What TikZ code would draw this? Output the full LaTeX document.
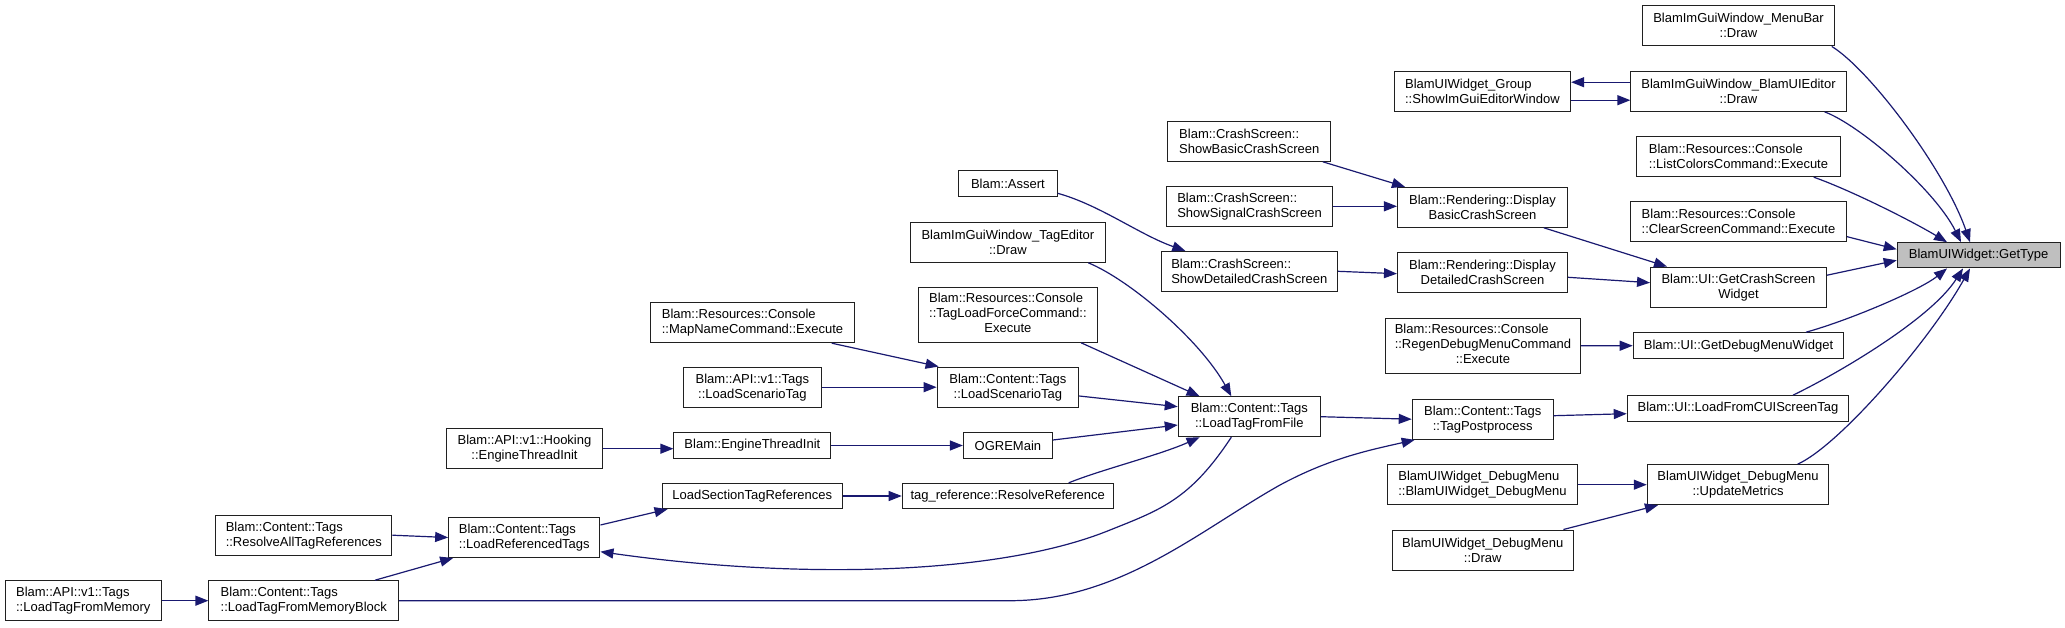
\documentclass[tikz,border=0pt]{standalone}
\usepackage{fontspec}
\setmainfont{Liberation Sans}
\usetikzlibrary{arrows.meta}
\definecolor{edgecol}{HTML}{191970}
\definecolor{focusfill}{HTML}{BFBFBF}
\definecolor{bordercol}{HTML}{202020}
\begin{document}
\begin{tikzpicture}[x=1pt,y=-1pt,
  box/.style={draw=bordercol, line width=1pt, fill=white, inner sep=0pt, text=black,
              font=\fontsize{13}{15}\selectfont},
  lbox/.style={box, align=left},
  cbox/.style={box, align=center},
  e/.style={draw=edgecol, line width=1.2pt, -{Triangle[length=13pt,width=10pt]}}]
\useasboundingbox (0,0) rectangle (2065,627);

% column 1
\node[lbox, minimum width=155.8pt, minimum height=40pt] (apiltfm) at (83.3,600.7) {Blam::API::v1::Tags\\::LoadTagFromMemory};
% column 2
\node[lbox, minimum width=189.8pt, minimum height=40pt] (ltfmb) at (303.8,600.7) {Blam::Content::Tags\\::LoadTagFromMemoryBlock};
\node[lbox, minimum width=176.3pt, minimum height=40pt] (ratr) at (303.8,535.2) {Blam::Content::Tags\\::ResolveAllTagReferences};
% column 3
\node[lbox, minimum width=151.3pt, minimum height=40pt] (lrt) at (524.3,537.5) {Blam::Content::Tags\\::LoadReferencedTags};
\node[cbox, minimum width=156.3pt, minimum height=40pt] (heti) at (524.5,448.7) {Blam::API::v1::Hooking\\::EngineThreadInit};
% column 4
\node[lbox, minimum width=204.5pt, minimum height=40pt] (mapname) at (752.5,322.7) {Blam::Resources::Console\\::MapNameCommand::Execute};
\node[cbox, minimum width=137.8pt, minimum height=40pt] (apilst) at (752.4,387.2) {Blam::API::v1::Tags\\::LoadScenarioTag};
\node[box, minimum width=157pt, minimum height=25.7pt] (eti) at (752.4,445.5) {Blam::EngineThreadInit};
\node[box, minimum width=180.3pt, minimum height=25.3pt] (lstr) at (752.2,496) {LoadSectionTagReferences};
% column 5
\node[box, minimum width=98.6pt, minimum height=25.7pt] (assert) at (1007.9,183.8) {Blam::Assert};
\node[cbox, minimum width=194.2pt, minimum height=40pt] (tagedit) at (1007.9,242.3) {BlamImGuiWindow\_TagEditor\\::Draw};
\node[box, minimum width=179pt, minimum height=55pt] (tlf) at (1007.9,314.8) {\begin{tabular}{@{}l@{}}Blam::Resources::Console\\::TagLoadForceCommand::\\\multicolumn{1}{@{}c@{}}{Execute}\end{tabular}};
\node[cbox, minimum width=141.6pt, minimum height=40.3pt] (clst) at (1007.9,387.2) {Blam::Content::Tags\\::LoadScenarioTag};
\node[box, minimum width=89pt, minimum height=25.7pt] (ogre) at (1007.9,445.5) {OGREMain};
\node[box, minimum width=211pt, minimum height=25.3pt] (rr) at (1007.7,496) {tag\_reference::ResolveReference};
% column 6
\node[lbox, minimum width=163.2pt, minimum height=40pt] (sbcs) at (1249.3,141.3) {Blam::CrashScreen::\\ShowBasicCrashScreen};
\node[lbox, minimum width=165.6pt, minimum height=40pt] (sscs) at (1249.5,206.3) {Blam::CrashScreen::\\ShowSignalCrashScreen};
\node[lbox, minimum width=176.6pt, minimum height=40pt] (sdcs) at (1249.3,271.3) {Blam::CrashScreen::\\ShowDetailedCrashScreen};
\node[cbox, minimum width=142.1pt, minimum height=40pt] (ltff) at (1249.3,416.7) {Blam::Content::Tags\\::LoadTagFromFile};
% column 7
\node[lbox, minimum width=176.5pt, minimum height=40.3pt] (group) at (1482.4,91.2) {BlamUIWidget\_Group\\::ShowImGuiEditorWindow};
\node[cbox, minimum width=170.1pt, minimum height=40pt] (dbcs) at (1482.5,207.3) {Blam::Rendering::Display\\BasicCrashScreen};
\node[cbox, minimum width=170.1pt, minimum height=40.3pt] (ddcs) at (1482.5,272.5) {Blam::Rendering::Display\\DetailedCrashScreen};
\node[box, minimum width=194.7pt, minimum height=55pt] (regen) at (1482.9,345.8) {\begin{tabular}{@{}l@{}}Blam::Resources::Console\\::RegenDebugMenuCommand\\\multicolumn{1}{@{}c@{}}{::Execute}\end{tabular}};
\node[cbox, minimum width=141pt, minimum height=40.3pt] (tpp) at (1482.7,419.2) {Blam::Content::Tags\\::TagPostprocess};
\node[lbox, minimum width=189.3pt, minimum height=40pt] (dmctor) at (1482.5,484.7) {BlamUIWidget\_DebugMenu\\::BlamUIWidget\_DebugMenu};
\node[cbox, minimum width=181pt, minimum height=40pt] (dmdraw) at (1482.7,550) {BlamUIWidget\_DebugMenu\\::Draw};
% column 8
\node[cbox, minimum width=191.6pt, minimum height=40.3pt] (menubar) at (1738.5,25.8) {BlamImGuiWindow\_MenuBar\\::Draw};
\node[cbox, minimum width=215.2pt, minimum height=40.3pt] (uied) at (1738.5,91.2) {BlamImGuiWindow\_BlamUIEditor\\::Draw};
\node[lbox, minimum width=203.4pt, minimum height=40.3pt] (listc) at (1738.5,156.5) {Blam::Resources::Console\\::ListColorsCommand::Execute};
\node[lbox, minimum width=216.2pt, minimum height=40pt] (clrs) at (1738.5,221.7) {Blam::Resources::Console\\::ClearScreenCommand::Execute};
\node[cbox, minimum width=176pt, minimum height=40.3pt] (gcsw) at (1738.5,287.2) {Blam::UI::GetCrashScreen\\Widget};
\node[box, minimum width=210.6pt, minimum height=26pt] (gdmw) at (1738.5,345.7) {Blam::UI::GetDebugMenuWidget};
\node[box, minimum width=221.5pt, minimum height=25.7pt] (lfcui) at (1738,408.5) {Blam::UI::LoadFromCUIScreenTag};
\node[cbox, minimum width=181.5pt, minimum height=40pt] (upm) at (1738,484.7) {BlamUIWidget\_DebugMenu\\::UpdateMetrics};
% column 9
\node[box, fill=focusfill, minimum width=162.8pt, minimum height=25.3pt] (gettype) at (1978.6,255.3) {BlamUIWidget::GetType};

% edges into GetType
\draw[e] ([xshift=-3pt]menubar.south east) .. controls (1870,70) and (1945,170) .. ([xshift=-8.6pt]gettype.north);
\draw[e] ([xshift=-22pt]uied.south east) .. controls (1860,125) and (1935,190) .. ([xshift=-17.6pt]gettype.north);
\draw[e] ([xshift=-27pt]listc.south east) .. controls (1850,190) and (1910,220) .. ([xshift=-31.6pt]gettype.north);
\draw[e] ([yshift=-15pt]clrs.east) -- ([yshift=6pt]gettype.west);
\draw[e] ([yshift=12pt]gcsw.east) -- ([yshift=-5pt]gettype.west);
\draw[e] ([xshift=67.5pt]gdmw.north) .. controls (1850,320) and (1920,290) .. ([xshift=-31.6pt]gettype.south);
\draw[e] ([xshift=55pt]lfcui.north) .. controls (1835,375) and (1930,320) .. ([xshift=-15.6pt]gettype.south);
\draw[e] ([xshift=59.6pt]upm.north) .. controls (1840,445) and (1930,340) .. ([xshift=-8.6pt]gettype.south);

% column 7 -> 8
\draw[e] ([yshift=9pt]uied.west) -- ([yshift=9pt]group.east);
\draw[e] ([yshift=-9pt]group.east) -- ([yshift=-9pt]uied.west);
\draw[e] ([xshift=61.3pt]dbcs.south) -- ([xshift=-71.5pt]gcsw.north);
\draw[e] ([yshift=-4.8pt]ddcs.east) -- ([yshift=4.5pt]gcsw.west);
\draw[e] (regen.east) -- (gdmw.west);
\draw[e] ([yshift=3.5pt]tpp.east) -- ([yshift=-5.2pt]lfcui.west);
\draw[e] (dmctor.east) -- (upm.west);
\draw[e] ([xshift=80.7pt]dmdraw.north) -- ([xshift=11.2pt]upm.south west);

% column 6 -> 7
\draw[e] ([xshift=-8.6pt]sbcs.south east) -- ([xshift=8pt]dbcs.north west);
\draw[e] (sscs.east) -- ([yshift=1pt]dbcs.west);
\draw[e] (sdcs.east) -- ([yshift=-1.2pt]ddcs.west);
\draw[e] (ltff.east) -- (tpp.west);
\draw[e] (ltfmb.east) -- (1010,600.7) .. controls (1120,600.7) and (1200,530) .. (1280,485) .. controls (1330,458) and (1370,450) .. ([xshift=3pt]tpp.south west);

% column 5 -> 6
\draw[e] ([yshift=-9.5pt]assert.east) .. controls (1100,205) and (1140,235) .. ([xshift=24.8pt]sdcs.north west);
\draw[e] ([xshift=-17.2pt]tagedit.south east) .. controls (1130,280) and (1200,340) .. ([xshift=-18pt]ltff.north);
\draw[e] ([xshift=-16.8pt]tlf.south east) -- ([xshift=21.8pt]ltff.north west);
\draw[e] ([yshift=-8.8pt]clst.east) -- ([yshift=10pt]ltff.west);
\draw[e] ([yshift=5.5pt]ogre.east) -- ([yshift=-8.3pt]ltff.west);
\draw[e] ([xshift=61pt]rr.north) .. controls (1100,470) and (1160,455) .. ([xshift=21.8pt]ltff.south west);
\draw[e] ([xshift=-18pt]ltff.south) .. controls (1190,500) and (1160,510) .. (1110,530) .. controls (1000,575) and (800,580) .. ([yshift=-14.2pt]lrt.east);

% column 4 -> 5
\draw[e] ([xshift=79.3pt]mapname.south) -- ([xshift=2pt]clst.north west);
\draw[e] (apilst.east) -- (clst.west);
\draw[e] (eti.east) -- (ogre.west);
\draw[e] (lstr.east) -- (rr.west);

% column 3 -> 4
\draw[e] (heti.east) -- ([yshift=-3.2pt]eti.west);
\draw[e] ([yshift=12.5pt]lrt.east) -- ([xshift=6pt]lstr.south west);

% column 2 -> 3
\draw[e] (ratr.east) -- (lrt.west);
\draw[e] ([xshift=71.2pt]ltfmb.north) -- ([xshift=5pt]lrt.south west);

% column 1 -> 2
\draw[e] (apiltfm.east) -- (ltfmb.west);
\end{tikzpicture}
\end{document}
